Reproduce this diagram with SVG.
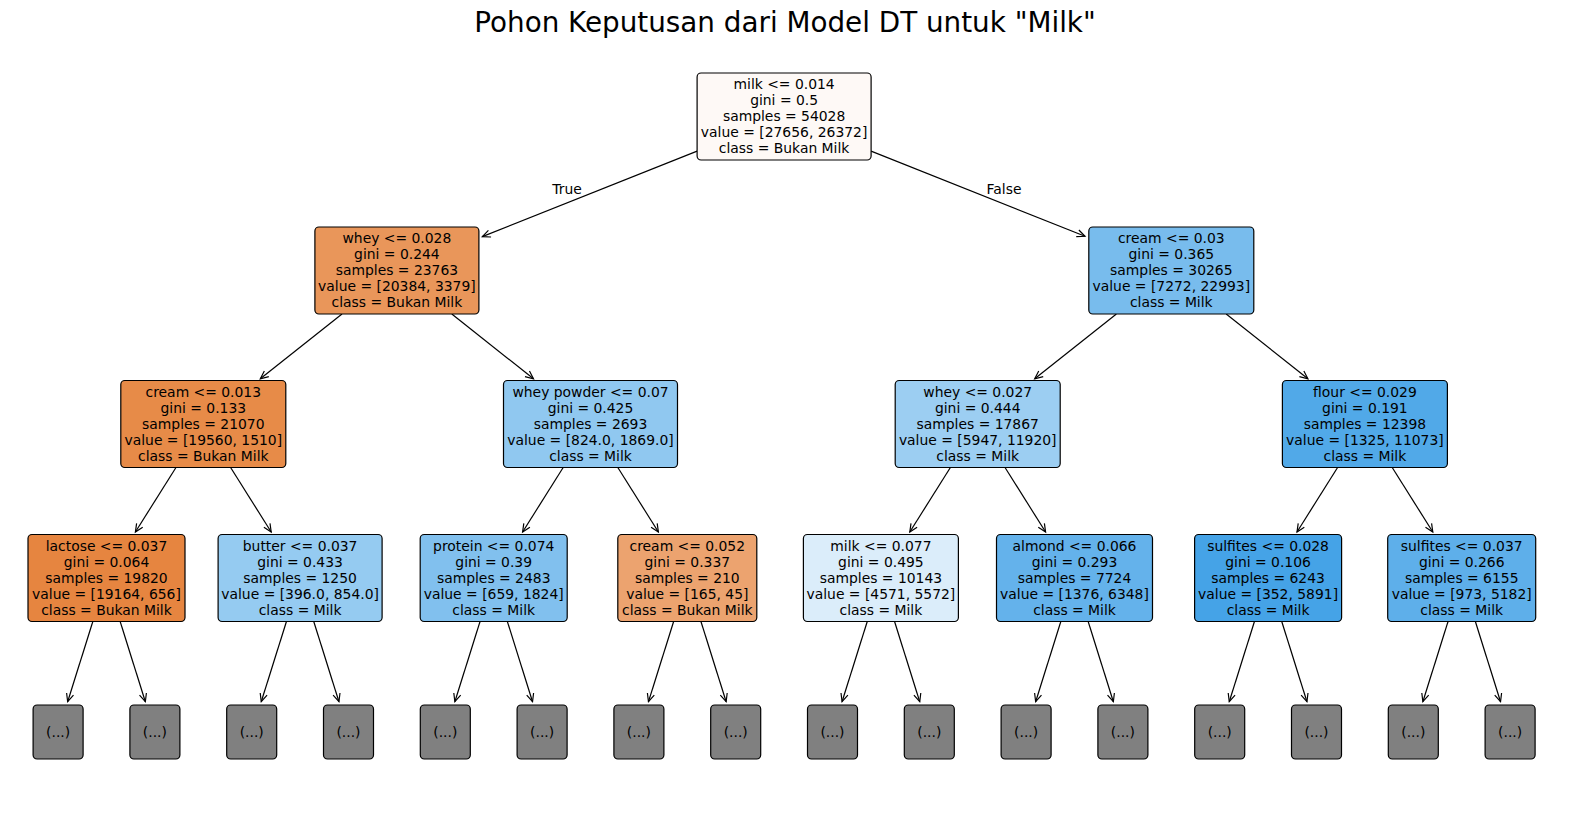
<svg xmlns="http://www.w3.org/2000/svg" width="1570" height="820" viewBox="0 0 1570 820">
<style>
text{font-family:"DejaVu Sans","Liberation Sans",sans-serif;fill:#000;}
.t{font-size:13.9px;text-anchor:middle;}
.title{font-size:27.8px;text-anchor:middle;}
.box{stroke:#000;stroke-width:1.2;}
.leaf{fill:#808080;stroke:#000;stroke-width:1.2;}
.edge{fill:none;stroke:#000;stroke-width:1.2;marker-end:url(#ah);}
</style>
<defs>
<marker id="ah" markerUnits="userSpaceOnUse" markerWidth="14" markerHeight="14" viewBox="-11 -7 14 14" refX="0" refY="0" orient="auto">
<path d="M-8,-3.6 L0,0 L-8,3.6" fill="none" stroke="#000" stroke-width="1.2"/>
</marker>
</defs>
<rect width="1570" height="820" fill="#fff"/>
<text class="title" x="785" y="32">Pohon Keputusan dari Model DT untuk "Milk"</text>

<g id="connectors">
<path class="edge" d="M697.1,151.1 L482.3,236.6"/>
<path class="edge" d="M871.1,151.1 L1085,236.3"/>
<path class="edge" d="M342,314 L260.3,378.8"/>
<path class="edge" d="M451.8,314 L533.5,378.8"/>
<path class="edge" d="M1116.4,314 L1034.7,378.8"/>
<path class="edge" d="M1226.2,314 L1307.9,378.8"/>
<path class="edge" d="M176.3,467 L135.4,532"/>
<path class="edge" d="M230.3,467 L271.2,532"/>
<path class="edge" d="M563.5,467 L522.6,532"/>
<path class="edge" d="M617.5,467 L658.4,532"/>
<path class="edge" d="M950.7,467 L909.8,532"/>
<path class="edge" d="M1004.7,467 L1045.6,532"/>
<path class="edge" d="M1337.9,467 L1297,532"/>
<path class="edge" d="M1391.9,467 L1432.8,532"/>
<path class="edge" d="M93,621 L67.65,701.7"/>
<path class="edge" d="M120,621 L145.35,701.7"/>
<path class="edge" d="M286.6,621 L261.25,701.7"/>
<path class="edge" d="M313.6,621 L338.95,701.7"/>
<path class="edge" d="M480.2,621 L454.85,701.7"/>
<path class="edge" d="M507.2,621 L532.55,701.7"/>
<path class="edge" d="M673.8,621 L648.45,701.7"/>
<path class="edge" d="M700.8,621 L726.15,701.7"/>
<path class="edge" d="M867.4,621 L842.05,701.7"/>
<path class="edge" d="M894.4,621 L919.75,701.7"/>
<path class="edge" d="M1061,621 L1035.65,701.7"/>
<path class="edge" d="M1088,621 L1113.35,701.7"/>
<path class="edge" d="M1254.6,621 L1229.25,701.7"/>
<path class="edge" d="M1281.6,621 L1306.95,701.7"/>
<path class="edge" d="M1448.2,621 L1422.85,701.7"/>
<path class="edge" d="M1475.2,621 L1500.55,701.7"/>
<text class="t" x="567" y="194">True</text>
<text class="t" x="1004" y="194">False</text>
</g>

<g id="n0">
<rect class="box" x="697.1" y="73" width="174" height="87" rx="4" fill="#fef9f6"/>
<text class="t" x="784.1" y="89">milk &lt;= 0.014</text>
<text class="t" x="784.1" y="105.1">gini = 0.5</text>
<text class="t" x="784.1" y="121.2">samples = 54028</text>
<text class="t" x="784.1" y="137.3">value = [27656, 26372]</text>
<text class="t" x="784.1" y="153.4">class = Bukan Milk</text>
</g>

<g id="n1">
<rect class="box" x="314.9" y="227" width="164" height="87" rx="4" fill="#e9965a"/>
<text class="t" x="396.9" y="243">whey &lt;= 0.028</text>
<text class="t" x="396.9" y="259.1">gini = 0.244</text>
<text class="t" x="396.9" y="275.2">samples = 23763</text>
<text class="t" x="396.9" y="291.3">value = [20384, 3379]</text>
<text class="t" x="396.9" y="307.4">class = Bukan Milk</text>
</g>

<g id="n2">
<rect class="box" x="1088.8" y="227" width="165" height="87" rx="4" fill="#78bced"/>
<text class="t" x="1171.3" y="243">cream &lt;= 0.03</text>
<text class="t" x="1171.3" y="259.1">gini = 0.365</text>
<text class="t" x="1171.3" y="275.2">samples = 30265</text>
<text class="t" x="1171.3" y="291.3">value = [7272, 22993]</text>
<text class="t" x="1171.3" y="307.4">class = Milk</text>
</g>

<g id="n3">
<rect class="box" x="120.8" y="380.5" width="165" height="87" rx="4" fill="#e78b48"/>
<text class="t" x="203.3" y="396.5">cream &lt;= 0.013</text>
<text class="t" x="203.3" y="412.6">gini = 0.133</text>
<text class="t" x="203.3" y="428.7">samples = 21070</text>
<text class="t" x="203.3" y="444.8">value = [19560, 1510]</text>
<text class="t" x="203.3" y="460.9">class = Bukan Milk</text>
</g>

<g id="n4">
<rect class="box" x="503.5" y="380.5" width="174" height="87" rx="4" fill="#90c8f0"/>
<text class="t" x="590.5" y="396.5">whey powder &lt;= 0.07</text>
<text class="t" x="590.5" y="412.6">gini = 0.425</text>
<text class="t" x="590.5" y="428.7">samples = 2693</text>
<text class="t" x="590.5" y="444.8">value = [824.0, 1869.0]</text>
<text class="t" x="590.5" y="460.9">class = Milk</text>
</g>

<g id="n5">
<rect class="box" x="895.2" y="380.5" width="165" height="87" rx="4" fill="#9ccef2"/>
<text class="t" x="977.7" y="396.5">whey &lt;= 0.027</text>
<text class="t" x="977.7" y="412.6">gini = 0.444</text>
<text class="t" x="977.7" y="428.7">samples = 17867</text>
<text class="t" x="977.7" y="444.8">value = [5947, 11920]</text>
<text class="t" x="977.7" y="460.9">class = Milk</text>
</g>

<g id="n6">
<rect class="box" x="1282.4" y="380.5" width="165" height="87" rx="4" fill="#51a9e8"/>
<text class="t" x="1364.9" y="396.5">flour &lt;= 0.029</text>
<text class="t" x="1364.9" y="412.6">gini = 0.191</text>
<text class="t" x="1364.9" y="428.7">samples = 12398</text>
<text class="t" x="1364.9" y="444.8">value = [1325, 11073]</text>
<text class="t" x="1364.9" y="460.9">class = Milk</text>
</g>

<g id="n7">
<rect class="box" x="28" y="534.5" width="157" height="87" rx="4" fill="#e68540"/>
<text class="t" x="106.5" y="550.5">lactose &lt;= 0.037</text>
<text class="t" x="106.5" y="566.6">gini = 0.064</text>
<text class="t" x="106.5" y="582.7">samples = 19820</text>
<text class="t" x="106.5" y="598.8">value = [19164, 656]</text>
<text class="t" x="106.5" y="614.9">class = Bukan Milk</text>
</g>

<g id="n8">
<rect class="box" x="218.1" y="534.5" width="164" height="87" rx="4" fill="#95cbf1"/>
<text class="t" x="300.1" y="550.5">butter &lt;= 0.037</text>
<text class="t" x="300.1" y="566.6">gini = 0.433</text>
<text class="t" x="300.1" y="582.7">samples = 1250</text>
<text class="t" x="300.1" y="598.8">value = [396.0, 854.0]</text>
<text class="t" x="300.1" y="614.9">class = Milk</text>
</g>

<g id="n9">
<rect class="box" x="420.2" y="534.5" width="147" height="87" rx="4" fill="#81c0ee"/>
<text class="t" x="493.7" y="550.5">protein &lt;= 0.074</text>
<text class="t" x="493.7" y="566.6">gini = 0.39</text>
<text class="t" x="493.7" y="582.7">samples = 2483</text>
<text class="t" x="493.7" y="598.8">value = [659, 1824]</text>
<text class="t" x="493.7" y="614.9">class = Milk</text>
</g>

<g id="n10">
<rect class="box" x="617.8" y="534.5" width="139" height="87" rx="4" fill="#eca36f"/>
<text class="t" x="687.3" y="550.5">cream &lt;= 0.052</text>
<text class="t" x="687.3" y="566.6">gini = 0.337</text>
<text class="t" x="687.3" y="582.7">samples = 210</text>
<text class="t" x="687.3" y="598.8">value = [165, 45]</text>
<text class="t" x="687.3" y="614.9">class = Bukan Milk</text>
</g>

<g id="n11">
<rect class="box" x="803.4" y="534.5" width="155" height="87" rx="4" fill="#dbedfa"/>
<text class="t" x="880.9" y="550.5">milk &lt;= 0.077</text>
<text class="t" x="880.9" y="566.6">gini = 0.495</text>
<text class="t" x="880.9" y="582.7">samples = 10143</text>
<text class="t" x="880.9" y="598.8">value = [4571, 5572]</text>
<text class="t" x="880.9" y="614.9">class = Milk</text>
</g>

<g id="n12">
<rect class="box" x="996.5" y="534.5" width="156" height="87" rx="4" fill="#64b2eb"/>
<text class="t" x="1074.5" y="550.5">almond &lt;= 0.066</text>
<text class="t" x="1074.5" y="566.6">gini = 0.293</text>
<text class="t" x="1074.5" y="582.7">samples = 7724</text>
<text class="t" x="1074.5" y="598.8">value = [1376, 6348]</text>
<text class="t" x="1074.5" y="614.9">class = Milk</text>
</g>

<g id="n13">
<rect class="box" x="1194.6" y="534.5" width="147" height="87" rx="4" fill="#45a3e7"/>
<text class="t" x="1268.1" y="550.5">sulfites &lt;= 0.028</text>
<text class="t" x="1268.1" y="566.6">gini = 0.106</text>
<text class="t" x="1268.1" y="582.7">samples = 6243</text>
<text class="t" x="1268.1" y="598.8">value = [352, 5891]</text>
<text class="t" x="1268.1" y="614.9">class = Milk</text>
</g>

<g id="n14">
<rect class="box" x="1387.7" y="534.5" width="148" height="87" rx="4" fill="#5eafea"/>
<text class="t" x="1461.7" y="550.5">sulfites &lt;= 0.037</text>
<text class="t" x="1461.7" y="566.6">gini = 0.266</text>
<text class="t" x="1461.7" y="582.7">samples = 6155</text>
<text class="t" x="1461.7" y="598.8">value = [973, 5182]</text>
<text class="t" x="1461.7" y="614.9">class = Milk</text>
</g>

<g id="leaf0"><rect class="leaf" x="33.1" y="705" width="50" height="54" rx="4"/><text class="t" x="58.1" y="737">(...)</text></g>
<g id="leaf1"><rect class="leaf" x="129.9" y="705" width="50" height="54" rx="4"/><text class="t" x="154.9" y="737">(...)</text></g>
<g id="leaf2"><rect class="leaf" x="226.7" y="705" width="50" height="54" rx="4"/><text class="t" x="251.7" y="737">(...)</text></g>
<g id="leaf3"><rect class="leaf" x="323.5" y="705" width="50" height="54" rx="4"/><text class="t" x="348.5" y="737">(...)</text></g>
<g id="leaf4"><rect class="leaf" x="420.3" y="705" width="50" height="54" rx="4"/><text class="t" x="445.3" y="737">(...)</text></g>
<g id="leaf5"><rect class="leaf" x="517.1" y="705" width="50" height="54" rx="4"/><text class="t" x="542.1" y="737">(...)</text></g>
<g id="leaf6"><rect class="leaf" x="613.9" y="705" width="50" height="54" rx="4"/><text class="t" x="638.9" y="737">(...)</text></g>
<g id="leaf7"><rect class="leaf" x="710.7" y="705" width="50" height="54" rx="4"/><text class="t" x="735.7" y="737">(...)</text></g>
<g id="leaf8"><rect class="leaf" x="807.5" y="705" width="50" height="54" rx="4"/><text class="t" x="832.5" y="737">(...)</text></g>
<g id="leaf9"><rect class="leaf" x="904.3" y="705" width="50" height="54" rx="4"/><text class="t" x="929.3" y="737">(...)</text></g>
<g id="leaf10"><rect class="leaf" x="1001.1" y="705" width="50" height="54" rx="4"/><text class="t" x="1026.1" y="737">(...)</text></g>
<g id="leaf11"><rect class="leaf" x="1097.9" y="705" width="50" height="54" rx="4"/><text class="t" x="1122.9" y="737">(...)</text></g>
<g id="leaf12"><rect class="leaf" x="1194.7" y="705" width="50" height="54" rx="4"/><text class="t" x="1219.7" y="737">(...)</text></g>
<g id="leaf13"><rect class="leaf" x="1291.5" y="705" width="50" height="54" rx="4"/><text class="t" x="1316.5" y="737">(...)</text></g>
<g id="leaf14"><rect class="leaf" x="1388.3" y="705" width="50" height="54" rx="4"/><text class="t" x="1413.3" y="737">(...)</text></g>
<g id="leaf15"><rect class="leaf" x="1485.1" y="705" width="50" height="54" rx="4"/><text class="t" x="1510.1" y="737">(...)</text></g>
</svg>
